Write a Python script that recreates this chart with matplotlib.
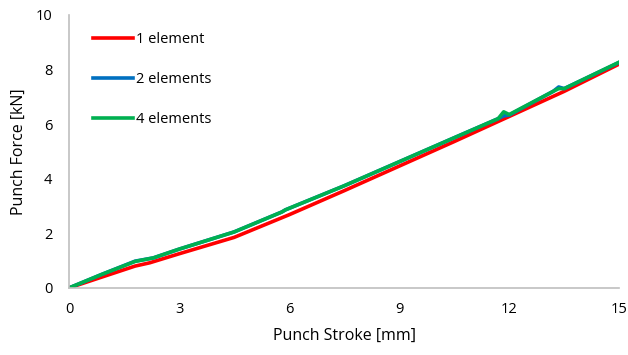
import matplotlib
matplotlib.use("Agg")
import matplotlib.pyplot as plt

# punch stroke [mm] / punch force [kN]
x_1el = [0, 0.9, 1.8, 2.2, 3.0, 4.5, 6.0, 7.5, 9.0, 10.5, 12.0, 13.5, 15.0]
f_1el = [0, 0.4, 0.8, 0.92, 1.25, 1.85, 2.68, 3.56, 4.46, 5.36, 6.28, 7.2, 8.2]

x_2el = [0, 0.9, 1.8, 2.3, 3.0, 4.5, 5.8, 5.9, 7.5, 9.0, 10.5, 11.7, 11.85, 12.0, 13.2, 13.35, 13.5, 15.0]
f_2el = [0, 0.5, 0.98, 1.1, 1.42, 2.05, 2.78, 2.86, 3.74, 4.62, 5.5, 6.2, 6.3, 6.33, 7.2, 7.36, 7.3, 8.26]

x_4el = [0, 0.9, 1.8, 2.3, 3.0, 4.5, 5.8, 5.9, 7.5, 9.0, 10.5, 11.7, 11.85, 12.0, 13.2, 13.35, 13.5, 15.0]
f_4el = [0, 0.5, 0.97, 1.1, 1.42, 2.05, 2.78, 2.86, 3.74, 4.62, 5.5, 6.2, 6.45, 6.35, 7.2, 7.3, 7.3, 8.27]

plt.rcParams['font.family'] = ['Open Sans', 'DejaVu Sans']

fig = plt.figure(figsize=(6.28, 3.55), dpi=100)
ax = fig.add_axes([0.110, 0.189, 0.876, 0.769])

ax.plot(x_1el, f_1el, color='#ff0000', lw=2.6, label='1 element')
ax.plot(x_2el, f_2el, color='#0070c0', lw=2.6, label='2 elements')
ax.plot(x_4el, f_4el, color='#00b050', lw=2.6, label='4 elements')

ax.set_xlim(0, 15)
ax.set_ylim(0, 10)
ax.set_xticks([0, 3, 6, 9, 12, 15])
ax.set_yticks([0, 2, 4, 6, 8, 10])
ax.tick_params(length=0, labelsize=10.5, pad=10)
ax.tick_params(axis='y', pad=12)
for s in ['top', 'right']:
    ax.spines[s].set_visible(False)
for s in ['left', 'bottom']:
    ax.spines[s].set_color('#bfbfbf')
    ax.spines[s].set_linewidth(1.2)

ax.set_xlabel('Punch Stroke [mm]', fontsize=11.5, labelpad=8)
ax.set_ylabel('Punch Force [kN]', fontsize=11.5, labelpad=6)

ax.legend(loc='upper left', bbox_to_anchor=(0.02, 0.985), frameon=False,
          fontsize=10.5, handlelength=2.7, handletextpad=0.25, labelspacing=1.7)

fig.savefig('out.png', dpi=100)
